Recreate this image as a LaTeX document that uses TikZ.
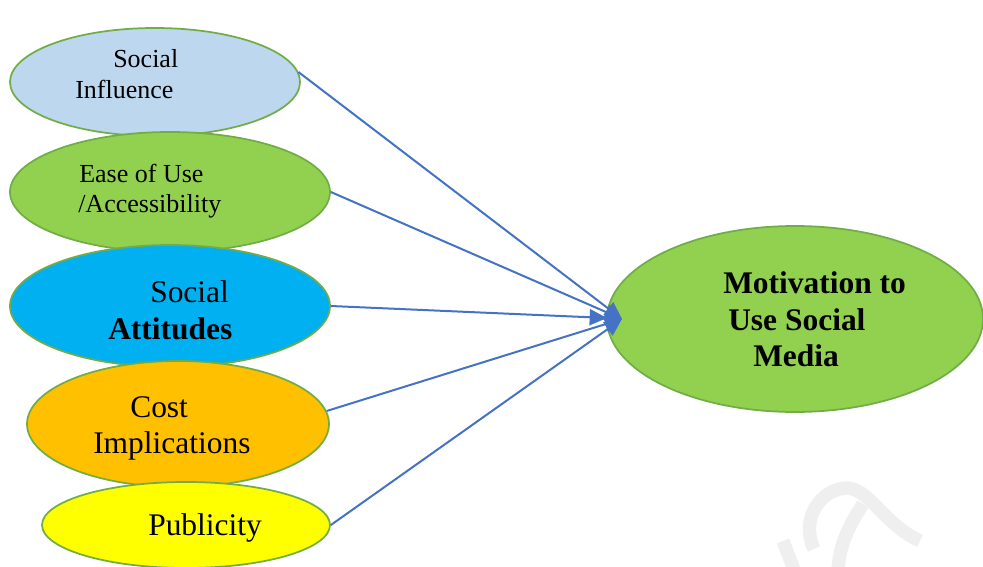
\documentclass[tikz,border=0pt]{standalone}
\usepackage{fontspec}
\setmainfont{Liberation Serif}
\usetikzlibrary{shapes.geometric,arrows.meta}
\definecolor{edgegreen}{HTML}{70AD47}
\definecolor{lightblue}{HTML}{BDD7EE}
\definecolor{leafgreen}{HTML}{92D050}
\definecolor{skyblue}{HTML}{00B0F0}
\definecolor{amber}{HTML}{FFC000}
\definecolor{brightyellow}{HTML}{FFFF00}
\definecolor{arrowblue}{HTML}{4472C4}
\definecolor{markgray}{HTML}{EFEFEF}
\tikzset{
  factor/.style={ellipse, draw=edgegreen, line width=1.3pt, inner sep=0pt},
  smalltext/.style={anchor=base west, inner sep=0pt, font=\fontsize{19.5}{22}\selectfont},
  bigtext/.style={anchor=base west, inner sep=0pt, font=\fontsize{23.6}{27}\selectfont},
  headtext/.style={anchor=base west, inner sep=0pt, font=\fontsize{23.6}{27}\selectfont\bfseries},
  link/.style={draw=arrowblue, line width=1.5pt, -{Triangle[length=13pt, width=12pt]}},
  faintstroke/.style={draw=markgray, line width=10pt}
}
\begin{document}
\begin{tikzpicture}[x=0.75pt, y=-0.75pt]
\useasboundingbox (0,0) rectangle (983,567);

% faint background mark
\draw[faintstroke] (814,549) .. controls (800,520) and (820,488) .. (848,488)
  .. controls (870,490) and (885,525) .. (920,541);
\draw[faintstroke] (863,504) .. controls (846,530) and (838,550) .. (838,575);
\draw[faintstroke] (783,541) -- (796,575);

% factor ellipses, top to bottom
\node[factor, fill=lightblue, minimum width=217.5pt, minimum height=81pt] (si) at (155,82) {};
\node[factor, fill=leafgreen, minimum width=240pt, minimum height=90pt] (eu) at (170,192) {};
\node[factor, fill=skyblue, minimum width=240pt, minimum height=91.5pt] (sa) at (170,306) {};
\node[factor, fill=amber, minimum width=226.5pt, minimum height=94.5pt] (ci) at (178,424) {};
\node[factor, fill=brightyellow, minimum width=216pt, minimum height=64.5pt] (pb) at (186,525) {};

% outcome ellipse
\node[factor, fill=leafgreen, minimum width=282pt, minimum height=139.5pt] (mo) at (795,319) {};

% labels
\node[smalltext] (si1) at (113,68) {Social};
\node[smalltext] (si2) at (75,99) {Influence};
\node[smalltext] (eu1) at (79,183) {Ease of Use};
\node[smalltext] (eu2) at (78,213) {/Accessibility};
\node[bigtext] (sa1) at (150,302) {Social};
\node[headtext] (sa2) at (108,339) {Attitudes};
\node[bigtext] (ci1) at (130,417) {Cost};
\node[bigtext] (ci2) at (93,453) {Implications};
\node[bigtext] (pb1) at (148,535) {Publicity};
\node[headtext] (mo1) at (723,293) {Motivation to};
\node[headtext] (mo2) at (728,330) {Use Social};
\node[headtext] (mo3) at (753,366) {Media};

% arrow ends
\coordinate (tip) at (622,319);
\coordinate (tipsa) at (607,318);

% connectors
\draw[link] (si.4) -- (tip);
\draw[link] (eu.east) -- (tip);
\draw[link] (sa.east) -- (tipsa);
\draw[link] (ci.5) -- (tip);
\draw[link] (pb.east) -- (tip);
\end{tikzpicture}
\end{document}
